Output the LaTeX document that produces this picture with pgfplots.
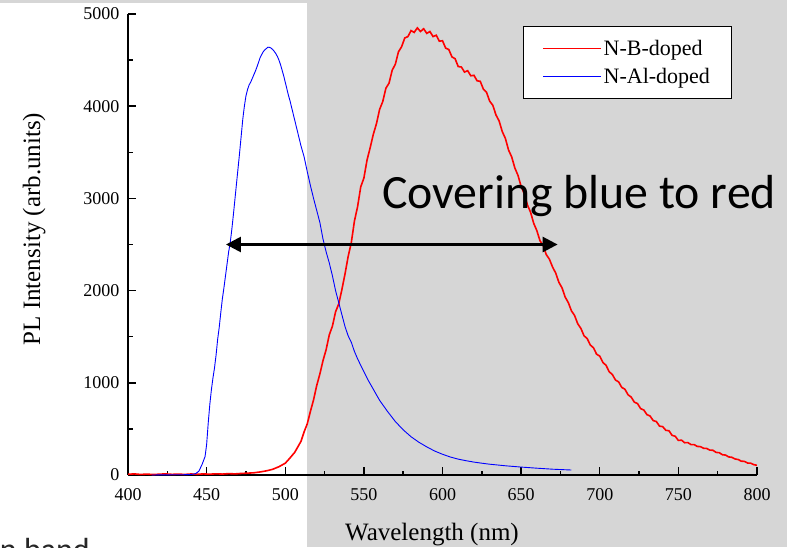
\documentclass[border=0pt]{standalone}
\usepackage{fontspec}
\setmainfont{Liberation Serif}
\newfontfamily\calibri{Carlito}
\usepackage{pgfplots}
\pgfplotsset{compat=1.18}
\usetikzlibrary{arrows.meta}
\definecolor{panelgray}{RGB}{214,214,214}

% PL spectra of the two doped samples
\pgfplotstableread{
lambda I
400 8
404 12
408 6
412 10
416 5
420 9
424 12
428 7
432 10
436 6
440 11
444 8
448 12
452 9
456 13
460 10
464 15
468 12
472 17
476 20
480 24
484 33
488 45
492 62
496 90
500 128
502 165
504 205
506 245
508 305
510 365
512 468
514 555
516 690
518 815
520 970
522 1095
524 1240
526 1360
528 1520
530 1615
532 1770
534 1855
536 2010
538 2180
540 2370
542 2520
544 2755
546 2910
548 3125
550 3220
552 3415
554 3550
556 3695
558 3810
560 3965
562 4050
564 4195
566 4250
568 4390
570 4455
572 4590
574 4645
576 4740
578 4755
580 4820
582 4800
584 4850
586 4810
588 4840
590 4790
592 4810
594 4755
596 4770
598 4705
600 4710
602 4630
604 4615
606 4535
608 4515
610 4430
612 4425
614 4370
616 4385
618 4330
620 4335
622 4275
624 4270
626 4185
628 4150
630 4055
632 4010
634 3905
636 3840
638 3725
640 3650
642 3525
644 3450
646 3330
648 3250
650 3130
652 3050
654 2930
656 2850
658 2730
660 2650
662 2540
664 2490
666 2390
668 2340
670 2255
672 2190
674 2090
676 2030
678 1930
680 1870
682 1780
684 1730
686 1640
688 1590
690 1510
692 1480
694 1410
696 1380
698 1310
700 1290
702 1220
704 1190
706 1120
708 1090
710 1030
712 1010
714 950
716 930
718 870
720 845
722 790
724 775
726 720
728 705
730 655
732 640
734 590
736 580
738 530
740 525
742 485
744 480
746 430
748 420
750 375
752 378
754 350
756 352
758 330
760 330
762 310
764 308
766 290
768 288
770 270
772 268
774 245
776 242
778 220
780 216
782 196
784 192
786 174
788 168
790 150
792 148
794 130
796 128
798 112
800 105
}\nbdoped

\pgfplotstableread{
lambda I
415 0
425 2
435 3
440 5
443 15
445 40
447 110
449 200
450 330
451 560
452 760
453 920
454 1050
455 1160
456 1300
457 1470
458 1600
459 1760
460 1910
461 2030
462 2160
463 2290
464 2420
465 2520
466 2660
467 2820
468 2990
469 3160
470 3330
471 3500
472 3680
473 3860
474 4000
475 4110
476 4180
477 4230
478 4260
479 4300
480 4340
481 4380
482 4425
483 4475
484 4525
485 4560
486 4590
487 4612
488 4625
489 4640
490 4638
491 4630
492 4615
493 4595
494 4570
495 4540
496 4500
497 4450
498 4390
499 4330
500 4260
501 4190
502 4120
503 4060
504 3990
505 3920
506 3850
507 3780
508 3710
509 3640
510 3570
512 3450
514 3290
516 3140
518 3000
520 2870
522 2740
524 2560
526 2420
528 2300
530 2160
532 2000
534 1870
536 1740
538 1610
540 1510
542 1440
544 1340
546 1260
548 1190
550 1120
553 1020
556 930
560 810
565 690
570 580
575 490
580 415
585 355
590 305
595 260
600 225
605 195
610 172
615 155
620 140
625 128
630 117
640 100
650 86
660 74
670 63
682 54
}\naldoped

\begin{document}
\begin{tikzpicture}[x=1pt,y=1pt]
\useasboundingbox (0,0) rectangle (787,547);
\clip (0,0) rectangle (787,547);
% page background: white on the left, grey panel on the right
\fill[white] (0,0) rectangle (787,547);
\fill[panelgray] (307,0) rectangle (787,547);
\fill[panelgray] (0,544) rectangle (787,547);
\node[font=\calibri\fontsize{32}{36}\selectfont, anchor=base east, inner sep=0pt, text=black!85] at (90,-13) {n band};

\begin{axis}[
  at={(128pt,72pt)}, anchor=south west,
  scale only axis, width=629pt, height=461pt,
  xmin=400, xmax=800, ymin=0, ymax=5000,
  axis x line*=bottom, axis y line*=left,
  axis line style={line width=1.6pt, black},
  tick style={line width=1.4pt, black},
  tick align=inside,
  major tick length=8pt, minor tick length=4.5pt,
  xtick={400,450,...,800}, ytick={0,1000,...,5000},
  minor x tick num=1, minor y tick num=1,
  /pgf/number format/assume math mode=true,
  /pgf/number format/1000 sep={},
  ticklabel style={font=\fontsize{18}{20}\selectfont},
  xticklabel style={yshift=-10pt},
  yticklabel style={xshift=-5pt},
  legend style={at={(0.628,0.975)}, anchor=north west,
    font=\fontsize{22}{26}\selectfont, draw=black, line width=0.9pt,
    fill=white, inner xsep=19pt, inner ysep=12pt, row sep=7pt,
    /tikz/every even column/.append style={column sep=9pt}},
  legend cell align=left,
  legend image code/.code={\draw[#1, line width=1.2pt] (0pt,0pt) -- (58pt,0pt);},
]
\addplot[red, line width=1.6pt] table[x=lambda, y=I] {\nbdoped};
\addlegendentry{N-B-doped}
\addplot[blue, line width=0.9pt] table[x=lambda, y=I] {\naldoped};
\addlegendentry{N-Al-doped}

\draw[line width=2.6pt, {Triangle[length=15pt,width=15pt]}-{Triangle[length=15pt,width=15pt]}]
  (axis cs:462.3,2500) -- (axis cs:673.2,2500);
\end{axis}

\node[anchor=base, inner sep=0pt, font=\fontsize{25}{28}\selectfont] at (432,7) {Wavelength (nm)};
\node[anchor=base, rotate=90, inner sep=0pt, font=\fontsize{25}{28}\selectfont] at (40,318) {PL Intensity (arb.units)};
\node[anchor=base west, inner sep=0pt, font=\calibri\fontsize{47.8}{52}\selectfont] at (382,338) {Covering blue to red};
\end{tikzpicture}
\end{document}
